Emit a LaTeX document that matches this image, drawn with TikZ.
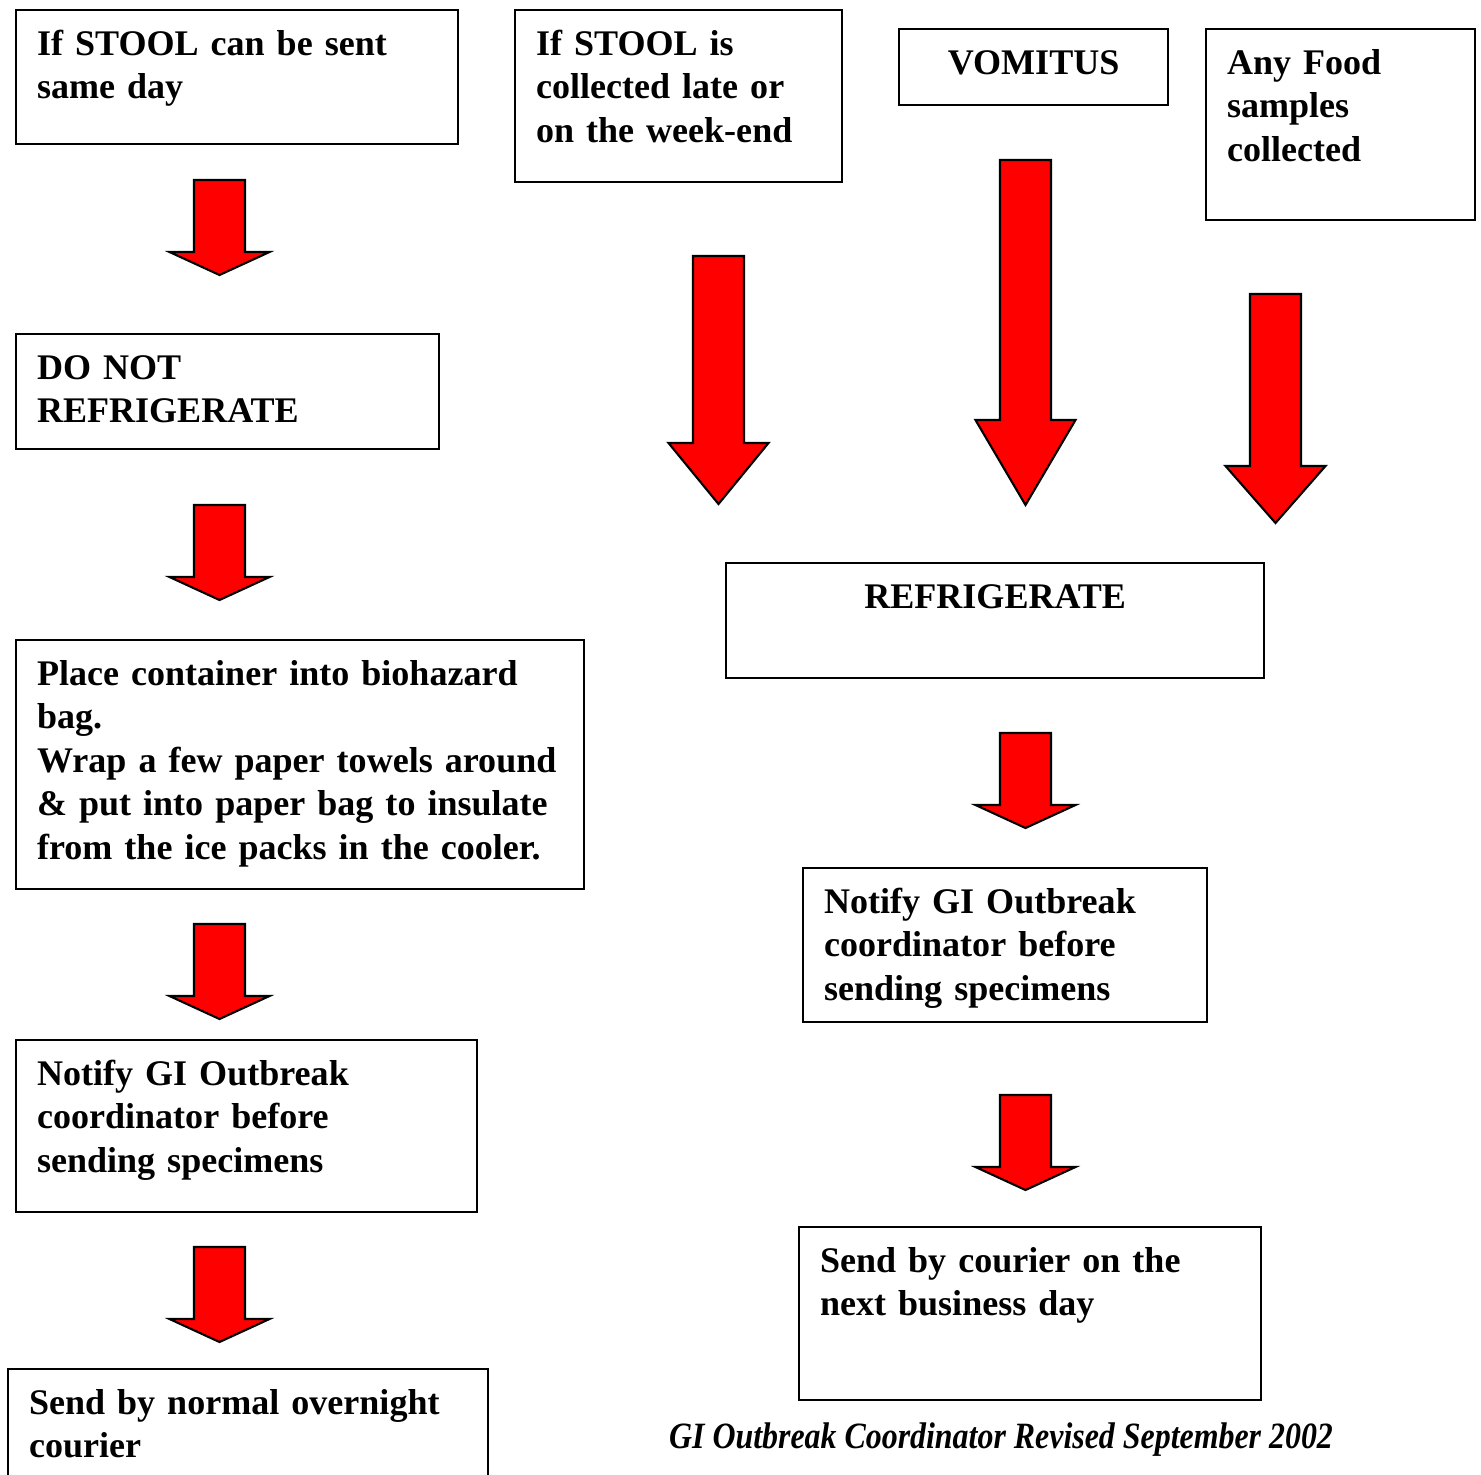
\documentclass[tikz,border=0pt]{standalone}
\usepackage{fontspec}
\setmainfont{Liberation Serif}
\usetikzlibrary{calc}

\begin{document}
\begin{tikzpicture}[x=0.01cm,y=-0.01cm,
  gibox/.style={draw, line width=0.6pt, anchor=north west, align=left,
    font=\fontsize{10.25}{12.4}\selectfont\bfseries,
    inner xsep=5.97pt, inner ysep=4.8pt, text height=8pt},
  redarrow/.style={draw=black, fill=red, line width=0.6pt, line join=miter}]
\useasboundingbox (0,0) rectangle (1481,1475);
\clip (0,0) rectangle (1481,1475);
% left column
\node[gibox, text width=4.00cm, text depth=0.721cm] (stoolday) at (15,9)
  {If STOOL can be sent\\same day};
\node[gibox, text width=3.81cm, text depth=0.531cm] (nofridge) at (15,333)
  {DO NOT\\REFRIGERATE};
\node[gibox, text width=5.26cm, text depth=1.871cm] (biobag) at (15,639)
  {Place container into biohazard\\bag.\\Wrap a few paper towels around\\\& put into paper bag to insulate\\from the ice packs in the cooler.};
\node[gibox, text width=4.19cm, text depth=1.101cm] (notifyleft) at (15,1039)
  {Notify GI Outbreak\\coordinator before\\sending specimens};
\node[gibox, text width=4.38cm, text depth=0.881cm] (overnight) at (7,1368)
  {Send by normal overnight\\courier};
% right column
\node[gibox, text width=2.85cm, text depth=1.101cm] (stoollate) at (514,9)
  {If STOOL is\\collected late or\\on the week-end};
\node[gibox, align=center, text width=2.27cm, text depth=0.141cm] (vomitus) at (898,28)
  {VOMITUS};
\node[gibox, text width=2.27cm, text depth=1.291cm] (food) at (1205,28)
  {Any Food\\samples\\collected};
\node[gibox, align=center, text width=4.96cm, text depth=0.531cm] (fridge) at (725,562)
  {REFRIGERATE};
\node[gibox, text width=3.62cm, text depth=0.921cm] (notifyright) at (802,867)
  {Notify GI Outbreak\\coordinator before\\sending specimens};
\node[gibox, text width=4.20cm, text depth=1.111cm] (nextday) at (798,1226)
  {Send by courier on the\\next business day};
\node[font=\fontsize{10.55}{12.4}\selectfont\bfseries\itshape, xscale=0.86, inner sep=0pt, anchor=base] (footer) at (1001,1448)
  {GI Outbreak Coordinator Revised September 2002};
% block arrows: centre x / top / head start / tip
\foreach \cx/\ya/\yb/\yc in {219.5/180/252/275, 219.5/505/577/600, 219.5/924/996/1019,
    219.5/1247/1319/1342, 718.5/256/443/504, 1025.5/160/420/505, 1275.5/294/466/523,
    1025.5/733/805/828, 1025.5/1095/1167/1190}
  \draw[redarrow] (\cx-25.5,\ya) -- (\cx+25.5,\ya) -- (\cx+25.5,\yb) -- (\cx+50,\yb)
    -- (\cx,\yc) -- (\cx-50,\yb) -- (\cx-25.5,\yb) -- cycle;
\end{tikzpicture}
\end{document}
